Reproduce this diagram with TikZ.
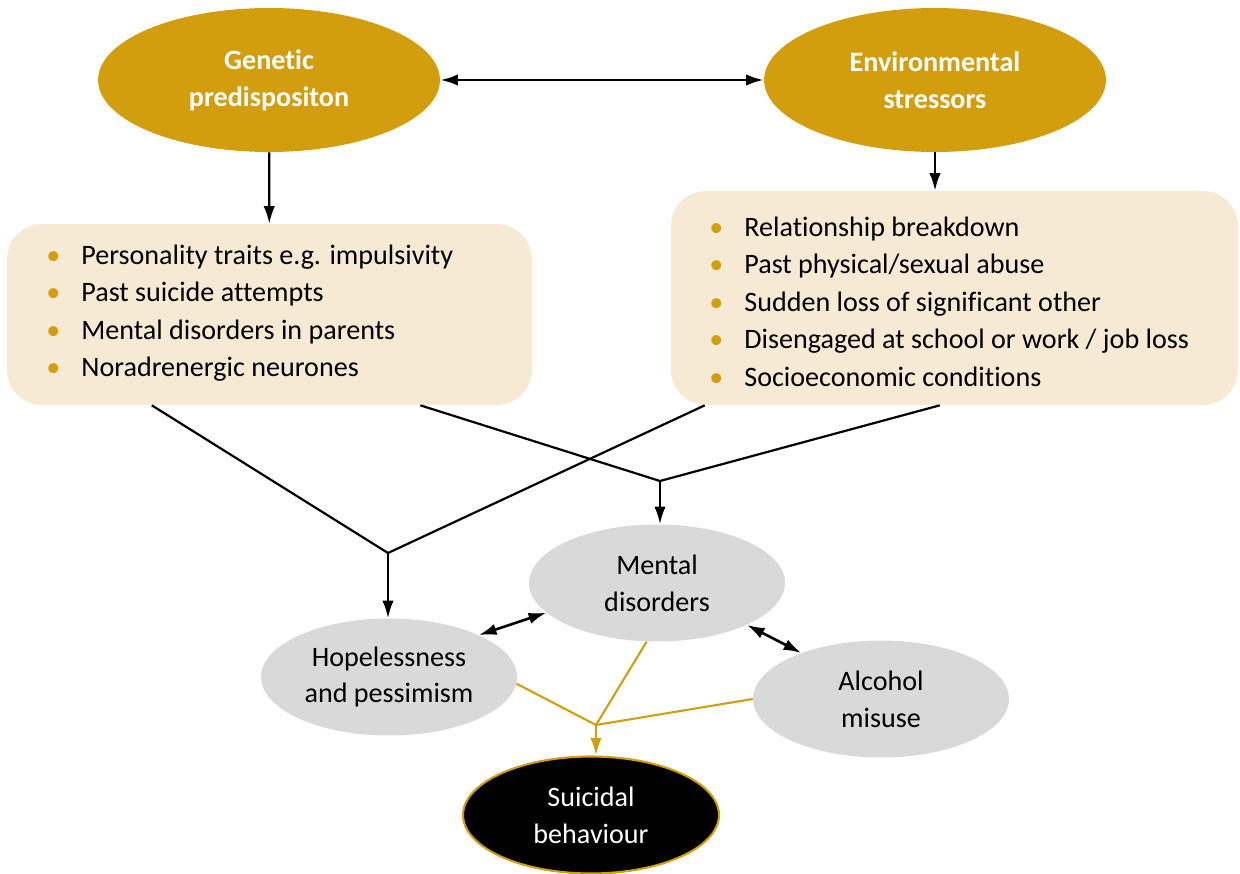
\documentclass[tikz,border=0pt]{standalone}
\usepackage{fontspec}
\setmainfont{Carlito}[RawFeature={-liga;-clig;-calt;-dlig}]
\usepackage{xcolor}
\usepackage{tikz}
\usetikzlibrary{positioning, arrows.meta, shapes.geometric, calc}
\definecolor{gold}{RGB}{211,158,13}
\definecolor{cream}{RGB}{247,234,212}
\definecolor{lgray}{RGB}{217,217,217}
\tikzset{>={Latex[length=10pt,width=6.5pt]}}
\tikzset{
  bigoval/.style={ellipse, fill=gold, text=white, align=center,
    font=\fontsize{16}{21}\selectfont\bfseries,
    minimum width=6.84cm, minimum height=2.88cm, inner sep=0pt},
  oval/.style={ellipse, fill=lgray, align=center,
    font=\fontsize{16}{21}\selectfont,
    minimum width=5.12cm, minimum height=2.34cm, inner sep=0pt},
  listbox/.style={rounded corners=0.7cm, fill=cream, inner sep=0pt},
  items/.style={anchor=west, align=left, inner sep=0pt,
    font=\fontsize{16}{21.3}\selectfont},
  link/.style={line width=1.25pt},
  twoway/.style={line width=1.5pt, <->},
  goldlink/.style={gold, line width=1.2pt}
}
\newcommand{\itm}[1]{\makebox[0.7cm][l]{\textcolor{gold}{\textbullet}}#1}

\begin{document}
\begin{tikzpicture}[x=0.02cm, y=-0.02cm]
\useasboundingbox (0,0) rectangle (1240,874);

% causes
\node[bigoval] (gen) at (269,80) {Genetic\\predispositon};
\node[bigoval] (env) at (935,80) {Environmental\\stressors};
\draw[twoway] (gen) -- (env);

% lists of factors
\node[listbox, minimum width=10.5cm, minimum height=3.62cm] (gbox) at (269.5,314.5) {};
\node[items] (glist) at (46,313) {\itm{Personality traits e.g. impulsivity}\\
  \itm{Past suicide attempts}\\
  \itm{Mental disorders in parents}\\
  \itm{Noradrenergic neurones}};
\node[listbox, minimum width=11.34cm, minimum height=4.28cm] (ebox) at (954.5,298) {};
\node[items] (elist) at (709,301.5) {\itm{Relationship breakdown}\\
  \itm{Past physical/sexual abuse}\\
  \itm{Sudden loss of significant other}\\
  \itm{Disengaged at school or work / job loss}\\
  \itm{Socioeconomic conditions}};

\draw[link,->] (gen) -- (gbox);
\draw[link,->] (env.south) -- (env.south |- ebox.north);

% intermediate states
\node[oval] (mental) at (657,583) {Mental\\disorders};
\node[oval] (hope) at (389,677) {Hopelessness\\and pessimism};
\node[oval] (alc) at (881,699) {Alcohol\\misuse};
\node[oval, fill=black, text=white, draw=gold, line width=1.2pt] (sui) at (591,815) {Suicidal\\behaviour};

% crossing lines
\coordinate (jh) at (388,553);
\coordinate (jm) at (660,481);
\draw[link] ($(gbox.south west)!0.276!(gbox.south east)$) -- (jh)
  -- ($(ebox.south west)!0.06!(ebox.south east)$);
\draw[link,->] (jh) -- (jh |- hope.north);
\draw[link] ($(gbox.south west)!0.787!(gbox.south east)$) -- (jm)
  -- ($(ebox.south west)!0.474!(ebox.south east)$);
\draw[link,->] (jm) -- (jm |- mental.north);

\draw[twoway] (hope.25) -- (mental.195);
\draw[twoway] (mental.335) -- (alc.150);

% outcome
\coordinate (js) at (596,725);
\draw[goldlink] (hope.357) -- (js) -- (mental.260);
\draw[goldlink] (alc.west) -- (js);
\draw[goldlink,->] (js) -- (js |- sui.north);
\end{tikzpicture}
\end{document}
